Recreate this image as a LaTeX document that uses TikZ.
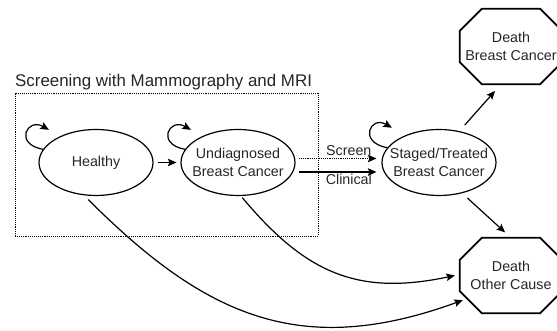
\documentclass[tikz,border=0pt]{standalone}
\usepackage{fontspec}
\setmainfont{Liberation Sans}
\usetikzlibrary{arrows.meta,shapes.geometric}
\begin{document}
\begin{tikzpicture}[x=1pt,y=1pt,
  every node/.style={font=\fontsize{14.3}{18}\selectfont, text=black!85},
  state/.style={draw, ellipse, line width=1.2pt, minimum width=114pt, minimum height=66pt,
                inner xsep=-16pt, inner ysep=0pt, align=center},
  octnode/.style={rectangle, minimum width=102pt, minimum height=75pt, inner sep=0pt, align=center},
  octline/.style={line width=1.7pt, line join=miter},
  arr/.style={line width=1.2pt, -{Stealth[length=8.5pt,width=7.5pt,inset=1.5pt]}},
  edgelabel/.style={font=\fontsize{14.3}{18}\selectfont, inner sep=2pt}
]
\useasboundingbox (0,0) rectangle (557,331);

% screening frame and its caption
\node[draw, densely dotted, line width=0.9pt, minimum width=303pt, minimum height=143pt, inner sep=0pt]
  (frame) at (166.5,166.5) {};
\node[anchor=base west, inner sep=0pt, font=\fontsize{16.9}{20}\selectfont] (title) at (15,244)
  {Screening with Mammography and MRI};

% health states
\node[state] (h) at (96,168.5) {Healthy};
\node[state] (u) at (238,168.5) {Undiagnosed\\Breast Cancer};
\node[state] (s) at (439,168.5) {Staged/Treated\\Breast Cancer};

% absorbing states
\node[octnode] (dbc) at (511,284.5) {Death\\Breast Cancer};
\node[octnode] (doc) at (511,55.5) {Death\\Other Cause};
\foreach \n in {dbc,doc}
  \draw[octline] ([xshift=22pt]\n.north west) -- ([xshift=-22pt]\n.north east)
    -- ([yshift=-22pt]\n.north east) -- ([yshift=22pt]\n.south east)
    -- ([xshift=-22pt]\n.south east) -- ([xshift=22pt]\n.south west)
    -- ([yshift=22pt]\n.south west) -- ([yshift=-22pt]\n.north west) -- cycle;

% staying in a state
\draw[arr] (h.166) .. controls +(-29.5pt,5.2pt) and +(-21.6pt,12.5pt) .. ([shift={(-6.4pt,8.9pt)}]h.north west);
\draw[arr] (u.166) .. controls +(-29.5pt,5.2pt) and +(-21.6pt,12.5pt) .. ([shift={(-6.4pt,8.9pt)}]u.north west);
\draw[arr] (s.164) .. controls +(-29.5pt,5.2pt) and +(-21.6pt,12.5pt) .. ([shift={(-6.4pt,11pt)}]s.north west);

% transitions
\draw[arr, shorten <=4pt, shorten >=4pt] (h) -- (u);
\draw[arr, densely dotted, shorten <=3pt, shorten >=5pt]
  ([yshift=4pt]u.east) -- ([yshift=4pt]s.west) node[edgelabel, pos=0.62, above] (scr) {Screen};
\draw[arr, shorten <=3pt, shorten >=5pt]
  ([yshift=-9.5pt]u.east) -- ([yshift=-9.5pt]s.west) node[edgelabel, pos=0.62, below] (cli) {Clinical};
\draw[arr, shorten <=8pt, shorten >=9pt] (s.57) -- ([xshift=-10pt]dbc.south);
\draw[arr, shorten <=7pt, shorten >=8pt] (s.-53) -- (doc.north);

% deaths from other causes
\draw[arr, shorten <=2pt] (u.-85) to[out=-50, in=192, looseness=1.12] ([xshift=-5pt]doc.west);
\draw[arr, shorten <=6pt] (h.250) to[out=-45, in=200, looseness=1.12] ([shift={(3pt,13pt)}]doc.south west);
\end{tikzpicture}
\end{document}
